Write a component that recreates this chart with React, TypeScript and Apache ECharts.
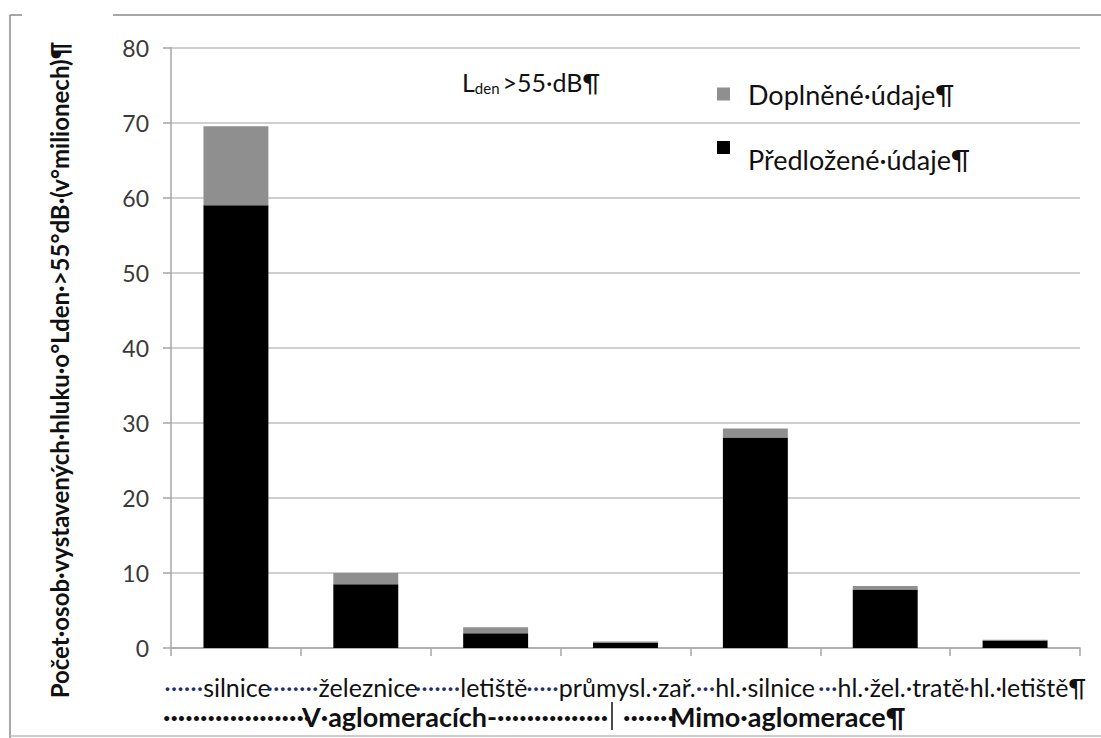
import React, { useEffect, useRef } from "react";
import * as echarts from "echarts";

const categories = [
  "silnice",
  "železnice",
  "letiště",
  "průmysl.·zař.",
  "hl.·silnice",
  "hl.·žel.·tratě",
  "hl.·letiště¶",
];
// leader dots before each category label (Word space marks)
const leaderDots = [6, 8, 7, 5, 3, 3, 1];
const submitted = [59.0, 8.5, 1.95, 0.65, 28.05, 7.8, 1.0];
const supplemented = [10.5, 1.5, 0.8, 0.2, 1.2, 0.45, 0.1];
const seriesNames = ["Předložené·údaje¶", "Doplněné·údaje¶"];
const groupLabels = ["V·aglomeracích-", "Mimo·aglomerace¶"];
const yTitle = "Počet·osob·vystavených·hluku·o°Lden·>55°dB·(v°milionech)¶";
const yMin = 0;
const yMax = 80;
const yStep = 10;

// shift (px) of each label name from its category centre, as in the reference
const nameShift = [-0.5, 0.5, -3.5, 0.5, 9, 15, 12.5];
const DOT_W = 6; // approx. width of "·" at 25px

const FONT = "Lato";

export default function App() {
  const ref = useRef<HTMLDivElement>(null);

  useEffect(() => {
    document.body.style.margin = "0";
    if (!ref.current) return;
    const chart = echarts.init(ref.current, null, { renderer: "svg" });

    const rich: any = {
      n: { fontFamily: FONT, fontSize: 25, color: "#111111" },
      d: { fontFamily: FONT, fontSize: 25, color: "#1c2f6b" },
    };
    categories.forEach((_, i) => {
      const dotsW = leaderDots[i] * DOT_W;
      let a = 0;
      let b = dotsW - 2 * nameShift[i];
      if (b < 0) {
        a = -b;
        b = 0;
      }
      rich["q" + i] = { fontFamily: FONT, fontSize: 25, width: a };
      rich["p" + i] = { fontFamily: FONT, fontSize: 25, width: b };
    });

    const boldText = (x: number, text: string, align: string) => ({
      type: "text",
      x,
      y: 716,
      style: {
        text,
        fontFamily: FONT,
        fontSize: 27,
        fontWeight: "bold",
        fill: "#111111",
        align,
        verticalAlign: "middle",
      },
    });

    const legendBase = {
      orient: "vertical",
      left: 717,
      padding: 0,
      itemWidth: 13,
      itemHeight: 13,
      selectedMode: false,
    };

    const option: any = {
      animation: false,
      backgroundColor: "#ffffff",
      textStyle: { fontFamily: FONT },
      grid: { left: 171, right: 21, top: 47.5, bottom: 90, containLabel: false },
      legend: [
        {
          ...legendBase,
          top: 79,
          data: [{ name: seriesNames[1], icon: "rect" }],
          textStyle: { fontFamily: FONT, fontSize: 27, lineHeight: 30, color: "#111111", padding: [0, 0, 0, 13] },
        },
        {
          ...legendBase,
          top: 122,
          data: [{ name: seriesNames[0], icon: "rect" }],
          formatter: (name: string) => "{e|}\n{t|" + name + "}",
          textStyle: {
            fontFamily: FONT,
            fontSize: 27,
            lineHeight: 24,
            color: "#111111",
            padding: [0, 0, 0, 13],
            rich: {
              e: { fontFamily: FONT, fontSize: 27, lineHeight: 24 },
              t: { fontFamily: FONT, fontSize: 27, lineHeight: 24, color: "#111111" },
            },
          },
        },
      ],
      xAxis: {
        type: "category",
        data: categories,
        boundaryGap: true,
        axisLine: { show: true, lineStyle: { color: "#a6a6a6", width: 1.5 } },
        axisTick: { show: true, length: 8, alignWithLabel: false, lineStyle: { color: "#a6a6a6", width: 1.5 } },
        axisLabel: {
          interval: 0,
          margin: 26,
          fontFamily: FONT,
          fontSize: 25,
          color: "#111111",
          formatter: (v: string, i: number) => {
            const d = "·".repeat(leaderDots[i]);
            return `{q${i}|}{d|${d}}{n|${v}}{p${i}|}`;
          },
          rich,
        },
        splitLine: { show: false },
      },
      yAxis: {
        type: "value",
        min: yMin,
        max: yMax,
        interval: yStep,
        axisLine: { show: true, lineStyle: { color: "#a6a6a6", width: 1.5 } },
        axisTick: { show: true, length: 8, lineStyle: { color: "#a6a6a6", width: 1.5 } },
        axisLabel: { margin: 22, fontFamily: FONT, fontSize: 23, color: "#3a3a3a" },
        splitLine: { show: true, lineStyle: { color: "#bfbfbf", width: 1.5 } },
      },
      series: [
        {
          name: seriesNames[0],
          type: "bar",
          stack: "total",
          barWidth: "50%",
          data: submitted,
          itemStyle: { color: "#000000" },
        },
        {
          name: seriesNames[1],
          type: "bar",
          stack: "total",
          barWidth: "50%",
          data: supplemented,
          itemStyle: { color: "#8f8f8f" },
        },
      ],
      graphic: [
        // outer frame fragments
        { type: "line", shape: { x1: 10, y1: 15, x2: 10, y2: 738 }, style: { stroke: "#8a8a8a", lineWidth: 1.5 } },
        { type: "line", shape: { x1: 10, y1: 15, x2: 22, y2: 15 }, style: { stroke: "#8a8a8a", lineWidth: 1.5 } },
        { type: "line", shape: { x1: 113, y1: 15, x2: 1101, y2: 15 }, style: { stroke: "#8a8a8a", lineWidth: 1.5 } },
        { type: "line", shape: { x1: 10, y1: 736, x2: 1101, y2: 736 }, style: { stroke: "#bdbdbd", lineWidth: 1.5 } },
        // y-axis title
        {
          type: "text",
          x: 59,
          y: 370,
          rotation: Math.PI / 2,
          style: {
            text: yTitle,
            fontFamily: FONT,
            fontSize: 24,
            fontWeight: "bold",
            fill: "#111111",
            align: "center",
            verticalAlign: "middle",
          },
        },
        // Lden annotation
        {
          type: "text",
          x: 462,
          y: 82,
          style: {
            text: "{l|L}{s|den}{n|>55·dB¶}",
            verticalAlign: "middle",
            rich: {
              l: { fontFamily: FONT, fontSize: 25, fill: "#111111" },
              s: { fontFamily: FONT, fontSize: 15, fill: "#111111", padding: [12, 3, 0, 0] },
              n: { fontFamily: FONT, fontSize: 25, fill: "#111111" },
            },
          },
        },
        // group row
        boldText(163, "·".repeat(20), "left"),
        boldText(302, groupLabels[0], "left"),
        boldText(497, "·".repeat(15), "left"),
        { type: "line", shape: { x1: 612, y1: 702, x2: 612, y2: 730 }, style: { stroke: "#111111", lineWidth: 1.5 } },
        boldText(623, "·".repeat(7), "left"),
        boldText(670, groupLabels[1], "left"),
      ],
    };
    chart.setOption(option);
    return () => chart.dispose();
  }, []);

  return <div ref={ref} style={{ width: 1101, height: 738 }} />;
}
